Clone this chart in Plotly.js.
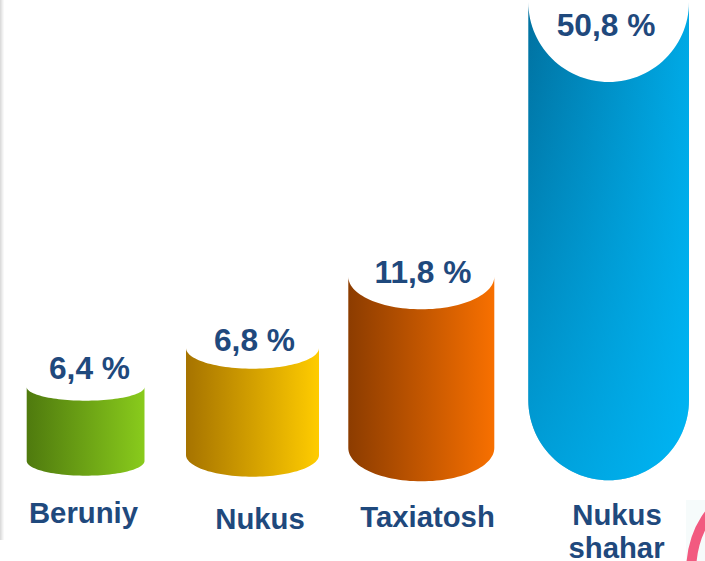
<!DOCTYPE html>
<html><head><meta charset="utf-8">
<script src="https://cdn.plot.ly/plotly-3.0.1.min.js"></script>
<style>html,body{margin:0;padding:0;background:#fff}#c{width:705px;height:561px}</style>
</head><body><div id="c"></div>
<script>
const categories = ["Beruniy", "Nukus", "Taxiatosh", "Nukus shahar"];
const values = [6.4, 6.8, 11.8, 50.8];
const valueLabels = values.map(v => v.toFixed(1).replace(".", ",") + " %");
const categoryLines = ["Beruniy", "Nukus", "Taxiatosh", "Nukus", "shahar"];

// Picture geometry of each cylinder, measured in pixels
const xLeft = [26.7, 186, 348.3, 528.3];
const xRight = [144.5, 319, 494.3, 689];
const topCorner = [387, 348, 276.7, 2];
const topDip = [13.7, 20.7, 32.6, 80];
const bottomCorner = [461, 455, 448, 400];
const bottomDip = [14.7, 21.7, 33.3, 80.3];
const darkColor = ["#4f7a0e", "#a67300", "#8c3c00", "#00709f"];
const lightColor = ["#89cb1c", "#ffcc00", "#f87000", "#00a8e4"];
const labelX = [89.5, 254.5, 423, 606];
const labelY = [371, 343.5, 275, 28];
const catX = [83.5, 260, 427.5, 617, 616.5];
const catY = [516, 522, 520, 517.5, 551];

function outline(i) {
  const cx = (xLeft[i] + xRight[i]) / 2, rx = (xRight[i] - xLeft[i]) / 2;
  const xs = [], ys = [];
  const N = 60;
  for (let k = 0; k <= N; k++) {          // concave top, left to right
    const a = Math.PI - Math.PI * k / N;
    xs.push(cx + rx * Math.cos(a)); ys.push(topCorner[i] + topDip[i] * Math.sin(a));
  }
  for (let k = 0; k <= N; k++) {          // bottom, right to left
    const a = Math.PI * k / N;
    xs.push(cx + rx * Math.cos(a)); ys.push(bottomCorner[i] + bottomDip[i] * Math.sin(a));
  }
  xs.push(xs[0]); ys.push(ys[0]);
  return {xs, ys};
}

const traces = [];
categories.forEach((c, i) => {
  const o = outline(i);
  traces.push({
    type: "scatter", mode: "none", x: o.xs, y: o.ys, fill: "toself", hoverinfo: "skip", showlegend: false,
    fillgradient: {type: "horizontal", colorscale: [[0, darkColor[i]], [1, lightColor[i]]]}
  });
  if (i === 3) {
    traces.push({
      type: "scatter", mode: "none", x: o.xs, y: o.ys, fill: "toself", hoverinfo: "skip", showlegend: false,
      fillgradient: {type: "vertical", colorscale: [[0, "rgba(0,190,255,0.6)"], [1, "rgba(0,190,255,0)"]]}
    });
  }
});
traces.push({
  type: "scatter", mode: "text", x: labelX, y: labelY, text: valueLabels,
  textposition: "middle center", hoverinfo: "skip", showlegend: false, cliponaxis: false,
  textfont: {family: "Liberation Sans", size: 31.7, color: "#1f497d", weight: 700}
});
traces.push({
  type: "scatter", mode: "text", x: catX, y: catY, text: categoryLines,
  textposition: "middle center", hoverinfo: "skip", showlegend: false, cliponaxis: false,
  textfont: {family: "Liberation Sans", size: 29.3, color: "#1f497d", weight: 700}
});

const shapes = [];
[["#dcdcdc", 0, 1], ["#e6e6e6", 1, 2], ["#f0f0f0", 2, 3], ["#f8f8f8", 3, 4]].forEach(s => {
  shapes.push({type: "rect", xref: "x", yref: "y", x0: s[1], x1: s[2], y0: 0, y1: 540, line: {width: 0}, fillcolor: s[0], layer: "below"});
});
shapes.push({type: "rect", xref: "x", yref: "y", x0: 686, x1: 705, y0: 500, y1: 561, line: {width: 0}, fillcolor: "#f6fbfb", layer: "below"});
shapes.push({type: "circle", xref: "x", yref: "y", x0: 691, x1: 790, y0: 497, y1: 650, line: {width: 10, color: "#f25a80"}, fillcolor: "rgba(0,0,0,0)", layer: "below"});

Plotly.newPlot("c", traces, {
  width: 705, height: 561,
  margin: {l: 0, r: 0, t: 0, b: 0},
  paper_bgcolor: "#fff", plot_bgcolor: "#fff",
  showlegend: false, shapes,
  xaxis: {range: [0, 705], visible: false, fixedrange: true},
  yaxis: {range: [561, 0], visible: false, fixedrange: true}
}, {displayModeBar: false, staticPlot: true});
</script></body></html>
